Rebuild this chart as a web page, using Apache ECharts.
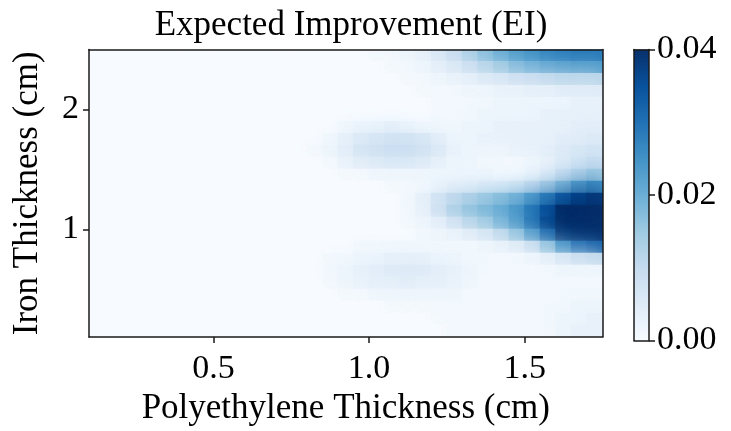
<!DOCTYPE html>
<html>
<head>
    <meta charset="utf-8">
    <script src="https://cdn.jsdelivr.net/npm/echarts@6/dist/echarts.min.js"></script>
    <style>
        html, body { margin: 0; padding: 0; background: #fff; }
        #main { width: 731px; height: 431px; }
    </style>
</head>
<body>
<div id="main"></div>
<script type="text/javascript">
    // cell centres (cm), cells are 0.05 wide and 0.1 tall
    var polyX = [0.125, 0.175, 0.225, 0.275, 0.325, 0.375, 0.425, 0.475, 0.525, 0.575, 0.625,
        0.675, 0.725, 0.775, 0.825, 0.875, 0.925, 0.975, 1.025, 1.075, 1.125, 1.175, 1.225,
        1.275, 1.325, 1.375, 1.425, 1.475, 1.525, 1.575, 1.625, 1.675, 1.725];
    var ironY = [2.45, 2.35, 2.25, 2.15, 2.05, 1.95, 1.85, 1.75, 1.65, 1.55, 1.45, 1.35,
        1.25, 1.15, 1.05, 0.95, 0.85, 0.75, 0.65, 0.55, 0.45, 0.35, 0.25, 0.15];
    // EI in units of 0.001, one row per ironY, columns 0..13 are all zero
    var zeroCols = [0, 0, 0, 0, 0, 0, 0, 0, 0, 0, 0, 0, 0, 0];
    var eiRows = [
        [0, 0, 0, 0, 1, 1, 2, 3, 6, 9, 13, 17, 20, 23, 25, 27, 28, 29, 29],
        [0, 0, 0, 0, 0, 1, 1, 2, 4, 6, 9, 12, 15, 18, 20, 22, 23, 24, 24],
        [0, 0, 0, 0, 0, 0, 1, 1, 2, 3, 4, 6, 7, 9, 10, 11, 12, 12, 12],
        [0, 0, 0, 0, 0, 0, 0, 1, 1, 1, 2, 2, 3, 3, 4, 4, 5, 5, 5],
        [0, 0, 0, 0, 0, 0, 0, 0, 1, 1, 1, 1, 2, 2, 2, 2, 2, 3, 3],
        [0, 0, 0, 0, 0, 0, 0, 0, 1, 1, 1, 2, 2, 2, 2, 3, 3, 3, 3],
        [0, 0, 1, 2, 2, 3, 2, 1, 1, 1, 2, 2, 3, 3, 3, 3, 3, 4, 4],
        [0, 1, 3, 5, 6, 7, 7, 6, 4, 2, 2, 3, 3, 3, 3, 3, 4, 4, 5],
        [1, 2, 4, 7, 8, 9, 9, 8, 6, 3, 2, 2, 2, 3, 3, 4, 5, 6, 7],
        [0, 1, 3, 5, 6, 7, 7, 6, 4, 2, 2, 1, 1, 1, 2, 3, 5, 7, 9],
        [0, 0, 1, 1, 2, 2, 2, 2, 2, 2, 2, 2, 1, 1, 2, 4, 8, 11, 14],
        [0, 0, 0, 0, 0, 1, 1, 1, 2, 3, 3, 4, 4, 5, 8, 12, 17, 22, 25],
        [0, 0, 0, 0, 0, 0, 1, 3, 7, 10, 12, 14, 16, 18, 22, 27, 32, 36, 38],
        [0, 0, 0, 0, 0, 0, 1, 3, 8, 13, 16, 18, 20, 23, 28, 34, 40, 44, 46],
        [0, 0, 0, 0, 0, 0, 1, 2, 4, 8, 12, 15, 19, 23, 29, 36, 42, 46, 48],
        [0, 0, 0, 0, 0, 0, 0, 1, 2, 3, 5, 7, 11, 16, 23, 31, 39, 44, 46],
        [0, 0, 0, 1, 1, 1, 1, 1, 1, 1, 1, 2, 3, 5, 9, 16, 25, 31, 33],
        [0, 1, 1, 2, 2, 3, 3, 3, 2, 2, 1, 1, 1, 1, 2, 4, 7, 10, 11],
        [0, 1, 2, 3, 4, 5, 5, 5, 4, 3, 2, 1, 1, 1, 1, 1, 2, 2, 2],
        [0, 1, 2, 3, 4, 4, 5, 4, 4, 3, 2, 1, 1, 1, 1, 1, 1, 1, 1],
        [0, 0, 1, 1, 2, 2, 2, 2, 2, 2, 1, 1, 1, 1, 1, 1, 1, 1, 1],
        [0, 0, 0, 0, 0, 1, 1, 1, 1, 1, 1, 1, 1, 1, 1, 1, 1, 2, 2],
        [0, 0, 0, 0, 0, 0, 0, 0, 1, 1, 1, 1, 1, 1, 1, 1, 2, 2, 3],
        [0, 0, 0, 0, 0, 0, 0, 0, 0, 1, 1, 1, 1, 1, 1, 1, 2, 3, 3]
    ];
    var xTicks = [0.5, 1.0, 1.5];
    var yTicks = [1, 2];
    var cbTicks = [0, 0.02, 0.04];

    var blues = ['#f7fbff', '#deebf7', '#c6dbef', '#9ecae1', '#6baed6',
        '#4292c6', '#2171b5', '#08519c', '#08306b'];
    var font = '"Liberation Serif", "Times New Roman", serif';
    var ink = '#1a1a1a';

    var cells = [];
    eiRows.forEach(function (row, r) {
        zeroCols.concat(row).forEach(function (v, c) {
            cells.push([polyX[c], ironY[r], v / 1000]);
        });
    });

    // frame line for the extra (label-less) axes
    function frameAxis(extra) {
        var a = {
            show: true,
            axisLine: { show: true, onZero: false, lineStyle: { color: ink, width: 1.5 } },
            axisTick: { show: false },
            axisLabel: { show: false },
            splitLine: { show: false },
            z: 10
        };
        for (var k in extra) a[k] = extra[k];
        return a;
    }

    var myChart = echarts.init(document.getElementById('main'));
    var option = {
        backgroundColor: '#fff',
        animation: false,
        textStyle: { fontFamily: font, color: '#000' },
        title: {
            text: 'Expected Improvement (EI)',
            left: 346, top: 3, textAlign: 'center',
            textStyle: { fontFamily: font, fontSize: 35, fontWeight: 'normal', color: '#000' }
        },
        grid: [
            { left: 89, top: 49.5, width: 513.5, height: 291, show: false },
            { left: 634, top: 49.5, width: 15, height: 291, show: false }
        ],
        visualMap: {
            type: 'continuous', show: false, seriesIndex: 0,
            min: 0, max: 0.04,
            inRange: { color: blues },
            outOfRange: { color: '#08306b' }
        },
        xAxis: [
            {
                type: 'value', gridIndex: 0, min: 0.1, max: 1.75, z: 10,
                name: 'Polyethylene Thickness (cm)', nameLocation: 'middle', nameGap: 51,
                nameTextStyle: { fontFamily: font, fontSize: 35, color: '#000' },
                axisLine: { show: true, onZero: false, lineStyle: { color: ink, width: 1.5 } },
                axisTick: { show: true, customValues: xTicks, length: 6, lineStyle: { color: ink, width: 1.5 } },
                axisLabel: { customValues: xTicks, margin: 15, fontFamily: font, fontSize: 34, color: '#000',
                    formatter: function (v) { return v.toFixed(1); } },
                splitLine: { show: false }
            },
            frameAxis({ type: 'value', gridIndex: 0, min: 0.1, max: 1.75, position: 'top' }),
            frameAxis({ type: 'value', gridIndex: 1, min: 0, max: 1, position: 'bottom' }),
            frameAxis({ type: 'value', gridIndex: 1, min: 0, max: 1, position: 'top' })
        ],
        yAxis: [
            {
                type: 'value', gridIndex: 0, min: 0.1, max: 2.5, z: 10,
                name: 'Iron Thickness (cm)', nameLocation: 'middle', nameGap: 44,
                nameTextStyle: { fontFamily: font, fontSize: 35, color: '#000' },
                axisLine: { show: true, onZero: false, lineStyle: { color: ink, width: 1.5 } },
                axisTick: { show: true, customValues: yTicks, length: 6, lineStyle: { color: ink, width: 1.5 } },
                axisLabel: { customValues: yTicks, margin: 10, fontFamily: font, fontSize: 34, color: '#000' },
                splitLine: { show: false }
            },
            {
                type: 'value', gridIndex: 1, min: 0, max: 0.04, position: 'right', z: 10,
                axisLine: { show: true, onZero: false, lineStyle: { color: ink, width: 1.5 } },
                axisTick: { show: true, customValues: cbTicks, length: 6, lineStyle: { color: ink, width: 1.5 } },
                axisLabel: { customValues: cbTicks, margin: 8, fontFamily: font, fontSize: 34, color: '#000',
                    formatter: function (v) { return v.toFixed(2); } },
                splitLine: { show: false }
            },
            frameAxis({ type: 'value', gridIndex: 0, min: 0.1, max: 2.5, position: 'right' }),
            frameAxis({ type: 'value', gridIndex: 1, min: 0, max: 0.04, position: 'left' })
        ],
        series: [
            {
                type: 'custom',
                xAxisIndex: 0, yAxisIndex: 0,
                clip: true,
                z: 1,
                data: cells,
                renderItem: function (params, api) {
                    var c = api.coord([api.value(0), api.value(1)]);
                    var s = api.size([0.05, 0.1]);
                    var col = api.visual('color');
                    return {
                        type: 'rect',
                        shape: { x: c[0] - s[0] / 2 - 0.5, y: c[1] - s[1] / 2 - 0.5, width: s[0] + 1, height: s[1] + 1 },
                        style: { fill: col, shadowBlur: 20, shadowColor: col }
                    };
                }
            },
            {
                type: 'custom',
                xAxisIndex: 2, yAxisIndex: 1,
                z: 1,
                data: [[0, 0]],
                renderItem: function (params, api) {
                    var p0 = api.coord([0, 0]);
                    var p1 = api.coord([1, 0.04]);
                    var stops = blues.map(function (col, i) {
                        return { offset: i / (blues.length - 1), color: col };
                    });
                    return {
                        type: 'rect',
                        shape: { x: p0[0], y: p1[1], width: p1[0] - p0[0], height: p0[1] - p1[1] },
                        style: { fill: new echarts.graphic.LinearGradient(0, 1, 0, 0, stops) }
                    };
                }
            }
        ]
    };
    myChart.setOption(option);
</script>
</body>
</html>
